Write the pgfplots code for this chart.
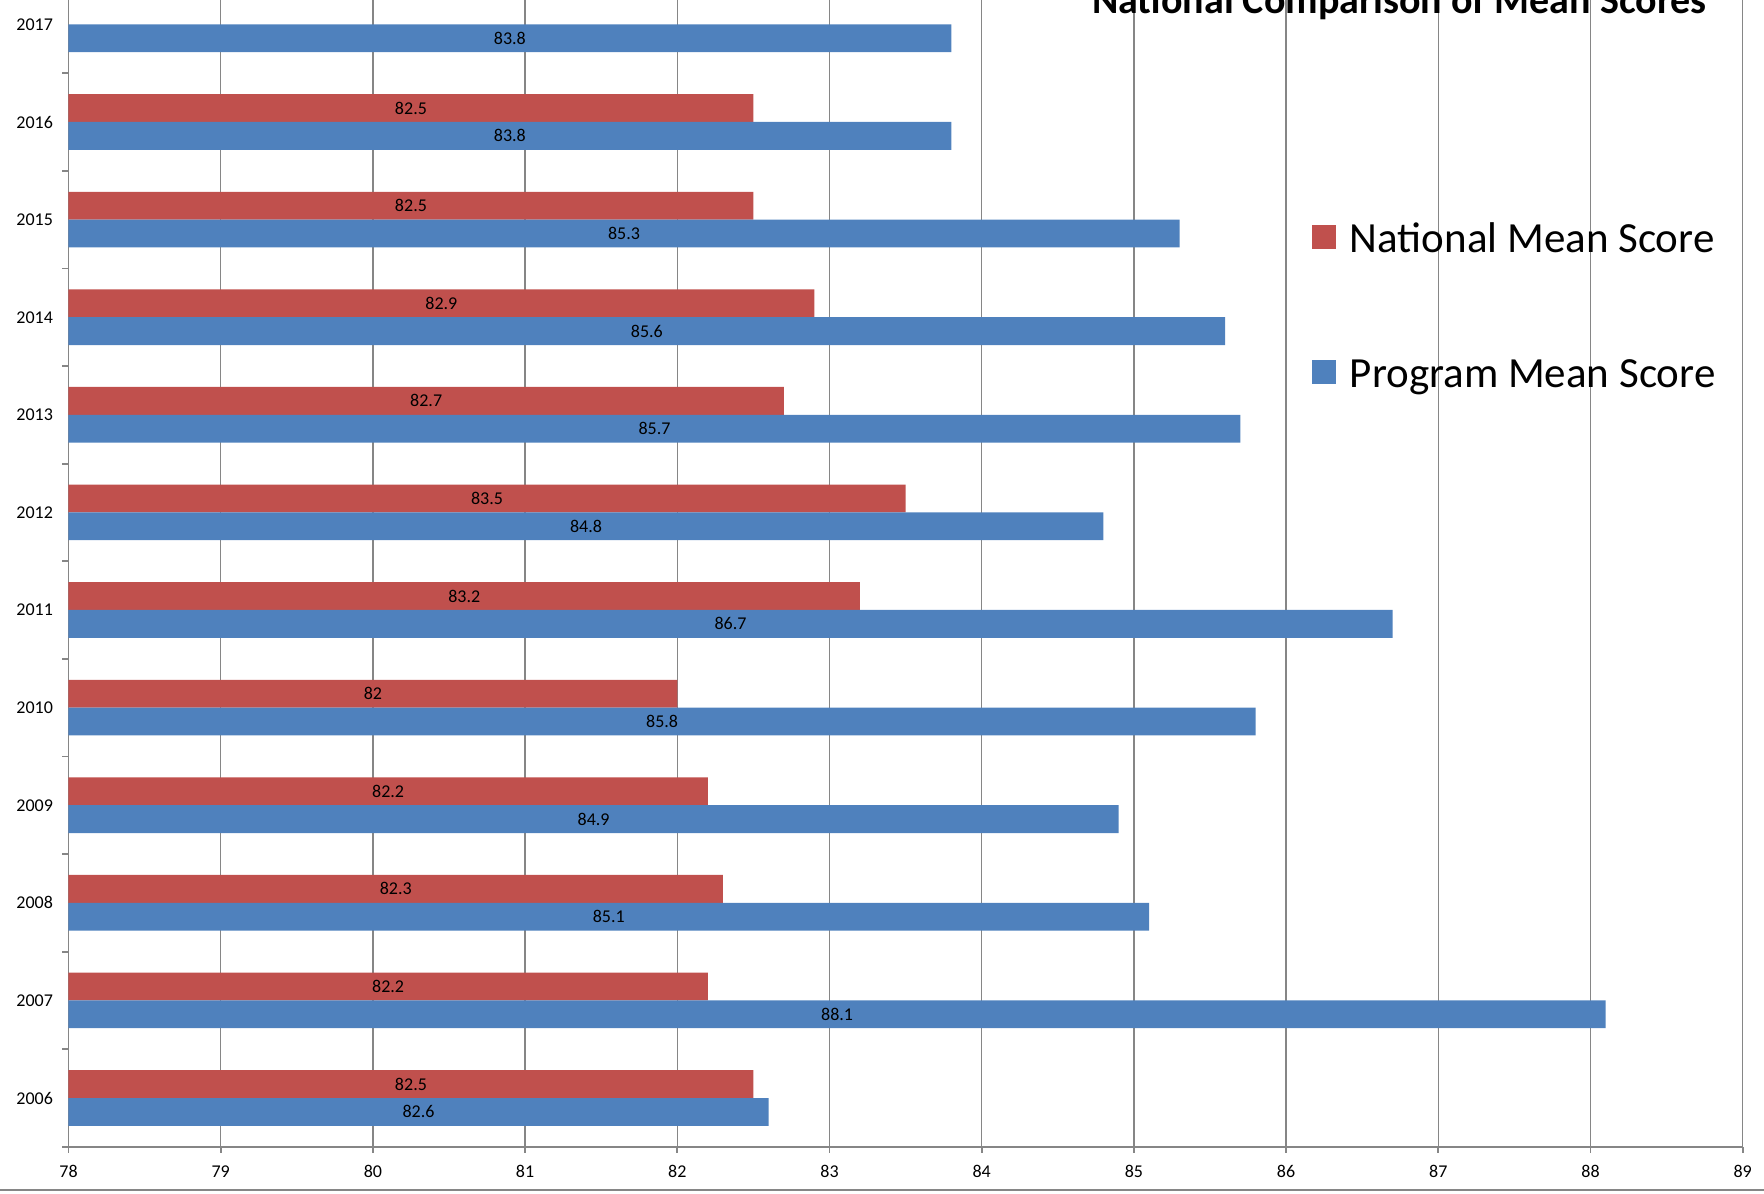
\documentclass[border=0pt]{standalone}
\usepackage{pgfplots}
\pgfplotsset{compat=1.18}
\usepackage{pgfplotstable}
\usepackage{fontspec}
\setmainfont{Carlito}
\definecolor{nat}{RGB}{192,80,77}
\definecolor{prog}{RGB}{79,129,189}
\definecolor{gridc}{RGB}{134,134,134}

\pgfplotstableread{
year val
2006 82.5
2007 82.2
2008 82.3
2009 82.2
2010 82.0
2011 83.2
2012 83.5
2013 82.7
2014 82.9
2015 82.5
2016 82.5
}\national
\pgfplotstableread{
year val
2006 82.6
2007 88.1
2008 85.1
2009 84.9
2010 85.8
2011 86.7
2012 84.8
2013 85.7
2014 85.6
2015 85.3
2016 83.8
2017 83.8
}\program

\begin{document}
\begin{tikzpicture}
\clip (-34.25pt,-23.1pt) rectangle (847.75pt,573.4pt);
\begin{axis}[
  scale only axis, width=837.1pt, height=585.6pt,
  xmin=78, xmax=89, ymin=2005.5, ymax=2017.5,
  xbar, bar width=0.285,
  axis x line*=bottom, axis y line*=left,
  axis line style={gridc, line width=0.9pt},
  xtick={78,...,89}, minor xtick={78,...,89},
  ytick={2006,...,2017}, minor ytick={2005.5,2006.5,...,2017.5},
  major tick length=0pt, minor tick length=3pt, tick align=outside,
  minor tick style={gridc, line width=0.9pt},
  xmajorgrids, major grid style={gridc, line width=0.75pt},
  /pgf/number format/assume math mode=true,
  /pgf/number format/1000 sep={},
  tick label style={font=\fontsize{9}{10}\selectfont, text=black},
  xticklabel style={yshift=-5.75pt},
  yticklabel style={xshift=-4.25pt},
  legend style={at={(rel axis cs:0.7427,0.7910)}, anchor=north west, draw=none, fill=none,
    inner sep=0pt, outer sep=0pt, font=\fontsize{21.5}{24}\selectfont,
    row sep=46.5pt, column sep=7pt,
    nodes={inner sep=0pt, text height=16pt, text depth=5pt}},
  legend cell align=left,
  legend image code/.code={\fill[#1] (0pt,-4pt) rectangle (12pt,8pt);},
  nodes near coords,
  every node near coord/.append style={font=\fontsize{9}{10}\selectfont, text=black, anchor=center, xshift={-(\xval-78)*38.05pt}},
]
\addplot[fill=nat, draw=none, bar shift=0.1425,
  visualization depends on={\thisrow{val} \as \xval}] table[x=val, y=year] {\national};
\addlegendentry{National Mean Score}
\addplot[fill=prog, draw=none, bar shift=-0.1425,
  visualization depends on={\thisrow{val} \as \xval}] table[x=val, y=year] {\program};
\addlegendentry{Program Mean Score}
\node[font=\bfseries\fontsize{20}{24}\selectfont, anchor=base] at (rel axis cs:0.795,0.968) {National Comparison of Mean Scores};
\end{axis}
\draw[gridc, line width=1pt] (-34.25pt,-21.6pt) -- (847.75pt,-21.6pt);
\end{tikzpicture}
\end{document}
